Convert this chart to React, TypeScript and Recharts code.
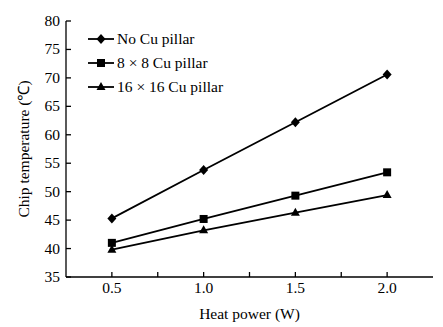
import { LineChart, Line, XAxis, YAxis, Legend, Label } from 'recharts'

const heatPower = [0.5, 1.0, 1.5, 2.0]
const noPillar = [45.3, 53.8, 62.2, 70.6]
const pillar8 = [41.0, 45.2, 49.3, 53.4]
const pillar16 = [39.8, 43.2, 46.3, 49.4]

const xTicks = [0.5, 0.75, 1.0, 1.25, 1.5, 1.75, 2.0]
const yTicks = [35, 40, 45, 50, 55, 60, 65, 70, 75, 80]

const seriesOrder = ['none', 'p8', 'p16']

const data = heatPower.map((p, i) => ({
  power: p,
  none: noPillar[i],
  p8: pillar8[i],
  p16: pillar16[i],
}))

const FONT = '"Liberation Serif", "Times New Roman", serif'

type Shape = 'diamond' | 'square' | 'triangle'

const Marker = ({ cx, cy, shape }: { cx: number; cy: number; shape: Shape }) => {
  if (cx == null || cy == null) return null
  if (shape === 'diamond')
    return <polygon points={`${cx},${cy - 5} ${cx + 4.5},${cy} ${cx},${cy + 5} ${cx - 4.5},${cy}`} fill="#000" />
  if (shape === 'square') return <rect x={cx - 4} y={cy - 4} width={8} height={8} fill="#000" />
  return <polygon points={`${cx},${cy - 5} ${cx + 4.5},${cy + 3} ${cx - 4.5},${cy + 3}`} fill="#000" />
}

const shapeFor: Record<string, Shape> = { none: 'diamond', p8: 'square', p16: 'triangle' }

const XTick = (props: any) => {
  const { x, y, payload } = props
  const v = payload.value
  const major = Math.abs(v * 2 - Math.round(v * 2)) < 1e-6
  // tickMargin 6, tickSize 0 -> axis line at y - 6
  const ay = y - 6
  return (
    <g>
      <line x1={x} x2={x} y1={ay} y2={ay - 5} stroke="#000" strokeWidth={1.3} />
      {major && (
        <text x={x} y={ay + 16} textAnchor="middle" fontFamily={FONT} fontSize={15.5} fill="#000">
          {v.toFixed(1)}
        </text>
      )}
    </g>
  )
}

const YTick = (props: any) => {
  const { x, y, payload } = props
  const ax = x + 6
  return (
    <g>
      <line x1={ax} x2={ax + 5} y1={y} y2={y} stroke="#000" strokeWidth={1.3} />
      <text x={x} y={y + 5} textAnchor="end" fontFamily={FONT} fontSize={15.5} fill="#000">
        {payload.value}
      </text>
    </g>
  )
}

const LegendContent = (props: any) => {
  const items = [...(props.payload || [])].sort(
    (a: any, b: any) => seriesOrder.indexOf(a.dataKey) - seriesOrder.indexOf(b.dataKey)
  )
  return (
    <div style={{ fontFamily: FONT, fontSize: 15.5, color: '#000' }}>
      {items.map((entry: any) => (
        <div key={entry.dataKey} style={{ display: 'flex', alignItems: 'center', height: 24 }}>
          <svg width={27} height={12} style={{ marginRight: 2 }}>
            <line x1={0} x2={26} y1={6} y2={6} stroke="#000" strokeWidth={1.8} />
            <Marker cx={13} cy={6} shape={shapeFor[entry.dataKey]} />
          </svg>
          <span>{entry.value}</span>
        </div>
      ))}
    </div>
  )
}

export default function App() {
  return (
    <div style={{ position: 'absolute', left: 0, top: 0, background: '#fff' }}>
      <LineChart width={443} height={327} data={data} margin={{ top: 21, right: 10, left: 0, bottom: 0 }}>
        <XAxis
          dataKey="power"
          type="number"
          domain={[0.25, 2.25]}
          ticks={xTicks}
          interval={0}
          height={50}
          tickSize={0}
          tickMargin={6}
          tick={<XTick />}
          axisLine={{ stroke: '#000', strokeWidth: 1.3 }}
          tickLine={false}
        >
          <Label
            content={(p: any) => (
              <text
                x={p.viewBox.x + p.viewBox.width / 2}
                y={319}
                textAnchor="middle"
                fontFamily={FONT}
                fontSize={15.5}
                fill="#000"
              >
                Heat power (W)
              </text>
            )}
          />
        </XAxis>
        <XAxis
          xAxisId="top"
          orientation="top"
          dataKey="power"
          type="number"
          domain={[0.25, 2.25]}
          height={0}
          tick={false}
          tickLine={false}
          axisLine={{ stroke: '#000', strokeWidth: 1.3 }}
        />
        <YAxis
          domain={[35, 80]}
          ticks={yTicks}
          interval={0}
          width={66}
          tickSize={0}
          tickMargin={6}
          tick={<YTick />}
          tickLine={false}
          axisLine={{ stroke: '#000', strokeWidth: 1.3 }}
        >
          <Label
            content={(p: any) => {
              const cy = p.viewBox.y + p.viewBox.height / 2
              return (
                <text
                  x={23}
                  y={cy}
                  transform={`rotate(-90, 23, ${cy})`}
                  textAnchor="middle"
                  dominantBaseline="central"
                  fontFamily={FONT}
                  fontSize={15.5}
                  fill="#000"
                >
                  Chip temperature (℃)
                </text>
              )
            }}
          />
        </YAxis>
        <YAxis
          yAxisId="right"
          orientation="right"
          domain={[35, 80]}
          width={0}
          tick={false}
          tickLine={false}
          axisLine={{ stroke: '#000', strokeWidth: 1.3 }}
        />
        <Legend
          layout="vertical"
          verticalAlign="middle"
          align="center"
          content={<LegendContent />}
          wrapperStyle={{ position: 'absolute', left: 88, top: 27, width: 'auto', height: 'auto' }}
        />
        <Line
          dataKey="none"
          name="No Cu pillar"
          stroke="#000"
          strokeWidth={1.8}
          isAnimationActive={false}
          dot={(p: any) => <Marker key={p.index} cx={p.cx} cy={p.cy} shape="diamond" />}
          activeDot={false}
        />
        <Line
          dataKey="p8"
          name="8 × 8 Cu pillar"
          stroke="#000"
          strokeWidth={1.8}
          isAnimationActive={false}
          dot={(p: any) => <Marker key={p.index} cx={p.cx} cy={p.cy} shape="square" />}
          activeDot={false}
        />
        <Line
          dataKey="p16"
          name="16 × 16 Cu pillar"
          stroke="#000"
          strokeWidth={1.8}
          isAnimationActive={false}
          dot={(p: any) => <Marker key={p.index} cx={p.cx} cy={p.cy} shape="triangle" />}
          activeDot={false}
        />
      </LineChart>
    </div>
  )
}
